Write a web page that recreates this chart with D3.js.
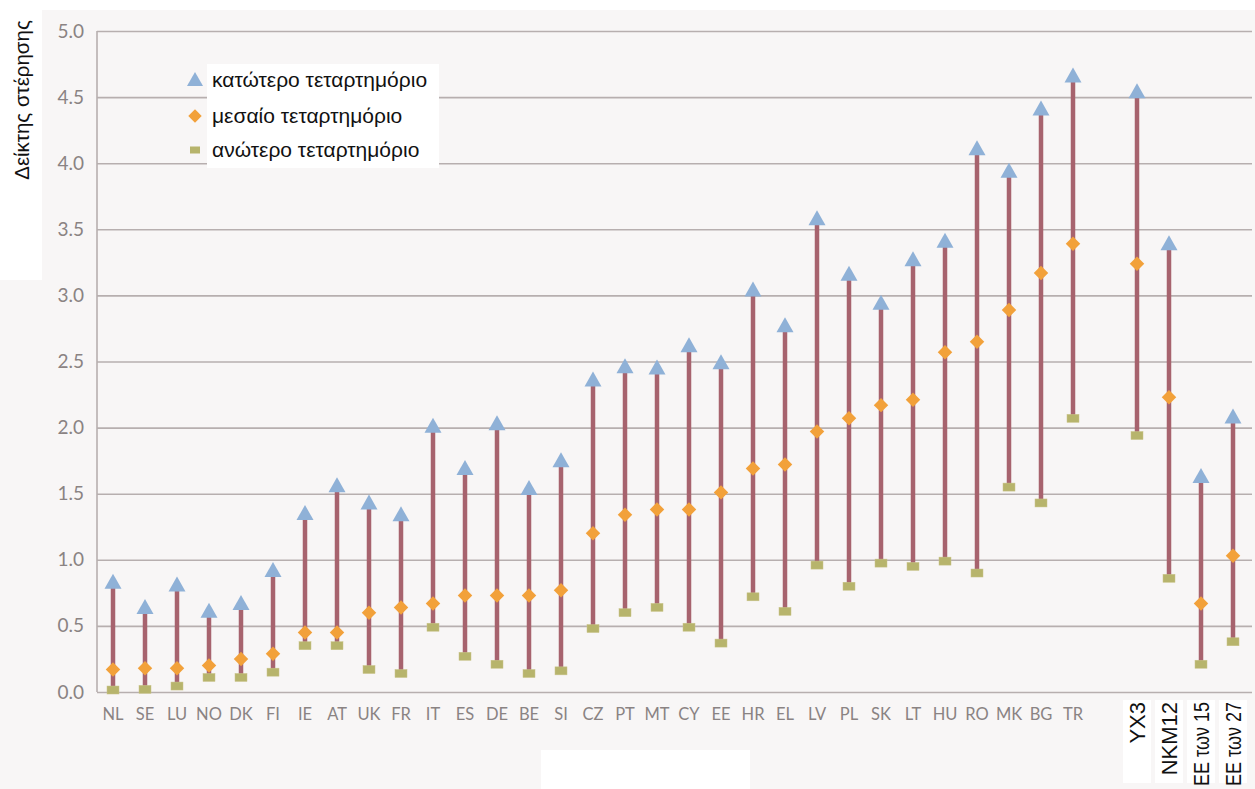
<!DOCTYPE html>
<html>
<head>
<meta charset="utf-8">
<script src="https://cdn.jsdelivr.net/npm/d3@7/dist/d3.min.js"></script>
<style>
  html, body { margin: 0; padding: 0; background: #ffffff; }
  svg { display: block; }
</style>
</head>
<body>
<svg id="chart" width="1255" height="789"></svg>
<script>
// ---- data ----
const categories = ["NL","SE","LU","NO","DK","FI","IE","AT","UK","FR","IT","ES","DE","BE","SI","CZ","PT","MT","CY","EE","HR","EL","LV","PL","SK","LT","HU","RO","MK","BG","TR","_gap","ΥΧ3","ΝΚΜ12","ΕΕ των 15","ΕΕ των 27"];
const groupLabels = ["ΥΧ3","ΝΚΜ12","ΕΕ των 15","ΕΕ των 27"];
// κατώτερο τεταρτημόριο (triangles)
const lowerQuartile = [0.83,0.64,0.81,0.61,0.67,0.92,1.35,1.56,1.43,1.34,2.01,1.69,2.03,1.54,1.75,2.36,2.46,2.45,2.62,2.49,3.04,2.77,3.58,3.16,2.94,3.27,3.41,4.11,3.94,4.41,4.66,null,4.54,3.39,1.63,2.08];
// μεσαίο τεταρτημόριο (diamonds)
const middleQuartile = [0.17,0.18,0.18,0.20,0.25,0.29,0.45,0.45,0.60,0.64,0.67,0.73,0.73,0.73,0.77,1.20,1.34,1.38,1.38,1.51,1.69,1.72,1.97,2.07,2.17,2.21,2.57,2.65,2.89,3.17,3.39,null,3.24,2.23,0.67,1.03];
// ανώτερο τεταρτημόριο (squares)
const upperQuartile = [0.015,0.02,0.045,0.11,0.11,0.15,0.35,0.35,0.17,0.14,0.49,0.27,0.21,0.14,0.16,0.48,0.60,0.64,0.49,0.37,0.72,0.61,0.96,0.80,0.975,0.95,0.99,0.90,1.55,1.43,2.07,null,1.94,0.86,0.21,0.38];
const yTicks = [0,0.5,1,1.5,2,2.5,3,3.5,4,4.5,5];
const legendLabels = ["κατώτερο τεταρτημόριο","μεσαίο τεταρτημόριο","ανώτερο τεταρτημόριο"];
const yTitle = "Δείκτης στέρησης";

// ---- layout ----
const svg = d3.select("#chart");
const W = 1255, H = 789;
const mLeft = 97, mRight = 1249, mTop = 31, mBottom = 692;
const bg = "#f8f6f6";
const gridColor = "#b7afaf";
const tickColor = "#8a8383";
const lineColor = "#a7636e";
const triColor = "#8fb1d7";
const diaColor = "#f2a13a";
const sqColor = "#b7b46c";

// background
svg.append("rect").attr("x",0).attr("y",0).attr("width",W).attr("height",H).attr("fill","#ffffff");
svg.append("rect").attr("x",0).attr("y",10).attr("width",W).attr("height",H-10).attr("fill",bg);
svg.append("rect").attr("x",0).attr("y",0).attr("width",42).attr("height",280).attr("fill","#ffffff");
svg.append("rect").attr("x",541).attr("y",750).attr("width",209).attr("height",39).attr("fill","#ffffff");

const x = d3.scaleBand().domain(categories).range([mLeft, mRight]).padding(0);
const cx = c => x(c) + x.bandwidth()/2;
const y = d3.scaleLinear().domain([0,5]).range([mBottom, mTop]);

// gridlines
const grid = svg.append("g").attr("transform",`translate(${mLeft},0)`)
  .call(d3.axisLeft(y).tickValues(yTicks).tickSize(-(1252-mLeft)).tickFormat(""));
grid.select(".domain").remove();
grid.selectAll(".tick line").attr("stroke",gridColor).attr("stroke-width",1.6);

// left axis line
svg.append("line").attr("x1",mLeft).attr("x2",mLeft).attr("y1",y(5)).attr("y2",y(0))
  .attr("stroke",gridColor).attr("stroke-width",1.6);

// y tick labels
const yAxis = svg.append("g").attr("transform",`translate(${mLeft-13},0)`)
  .call(d3.axisLeft(y).tickValues(yTicks).tickSize(0).tickFormat(d3.format(".1f")));
yAxis.select(".domain").remove();
yAxis.selectAll("text").attr("fill",tickColor).attr("font-family","Lato, 'Open Sans', sans-serif")
  .attr("font-size",19).attr("dy","0.32em").attr("x",0);

// y title
svg.append("text").attr("transform","translate(29,100) rotate(-90)")
  .attr("text-anchor","middle").attr("font-family","'Liberation Sans', Arial, sans-serif")
  .attr("font-size",20.5).attr("fill","#111").text(yTitle);

// x axis labels (countries)
const countryCats = categories.filter(c => c !== "_gap" && !groupLabels.includes(c));
const xAxis = svg.append("g").attr("transform",`translate(0,${mBottom})`)
  .call(d3.axisBottom(x).tickValues(countryCats).tickSize(0));
xAxis.select(".domain").remove();
xAxis.selectAll("text").attr("fill",tickColor).attr("font-family","Lato, 'Open Sans', sans-serif")
  .attr("font-size",16.5).attr("dy","1.5em");

// rotated group labels with white boxes
groupLabels.forEach(g => {
  svg.append("rect").attr("x",cx(g)-14).attr("y",700).attr("width",28).attr("height",83).attr("fill","#ffffff");
});
groupLabels.forEach((g,i) => {
  const t = svg.append("text").attr("transform",`translate(${cx(g)+8},702) rotate(-90)`)
    .attr("text-anchor","end").attr("font-family","'Liberation Sans', Arial, sans-serif")
    .attr("font-size",22).attr("fill","#111").text(g);
  if (i >= 2) t.attr("textLength",84).attr("lengthAdjust","spacingAndGlyphs");
});

// data
const rows = categories.map((c,i) => ({c, lo: lowerQuartile[i], mid: middleQuartile[i], up: upperQuartile[i]}))
  .filter(d => d.lo != null);

const marks = svg.append("g");
marks.selectAll("line.range").data(rows).join("line")
  .attr("x1",d=>cx(d.c)).attr("x2",d=>cx(d.c))
  .attr("y1",d=>y(d.up)).attr("y2",d=>y(d.lo))
  .attr("stroke",lineColor).attr("stroke-width",4.5);

marks.selectAll("rect.sq").data(rows).join("rect")
  .attr("x",d=>cx(d.c)-6).attr("y",d=>y(d.up)-4).attr("width",12).attr("height",8)
  .attr("fill",sqColor).attr("stroke","#c9c48a").attr("stroke-width",0.5);

marks.selectAll("path.dia").data(rows).join("path")
  .attr("transform",d=>`translate(${cx(d.c)},${y(d.mid)}) rotate(45)`)
  .attr("d",d3.symbol().type(d3.symbolSquare).size(105)())
  .attr("fill",diaColor);

marks.selectAll("path.tri").data(rows).join("path")
  .attr("transform",d=>`translate(${cx(d.c)},${y(d.lo)})`)
  .attr("d","M0,-8.5 L8.5,6.5 L-8.5,6.5 Z")
  .attr("fill",triColor);

// legend
svg.append("rect").attr("x",207).attr("y",64).attr("width",232).attr("height",104).attr("fill","#ffffff");
const legY = [80,116,150];
svg.append("path").attr("transform",`translate(195,${legY[0]})`).attr("d","M0,-8 L8,6 L-8,6 Z").attr("fill",triColor);
svg.append("path").attr("transform",`translate(195,${legY[1]}) rotate(45)`).attr("d",d3.symbol().type(d3.symbolSquare).size(90)()).attr("fill",diaColor);
svg.append("rect").attr("x",190).attr("y",legY[2]-3.5).attr("width",10).attr("height",7).attr("fill",sqColor);
legendLabels.forEach((t,i) => {
  svg.append("text").attr("x",212).attr("y",legY[i]).attr("dy","0.35em")
    .attr("font-family","'Liberation Sans', Arial, sans-serif").attr("font-size",21)
    .attr("fill","#111").text(t);
});
</script>
</body>
</html>
